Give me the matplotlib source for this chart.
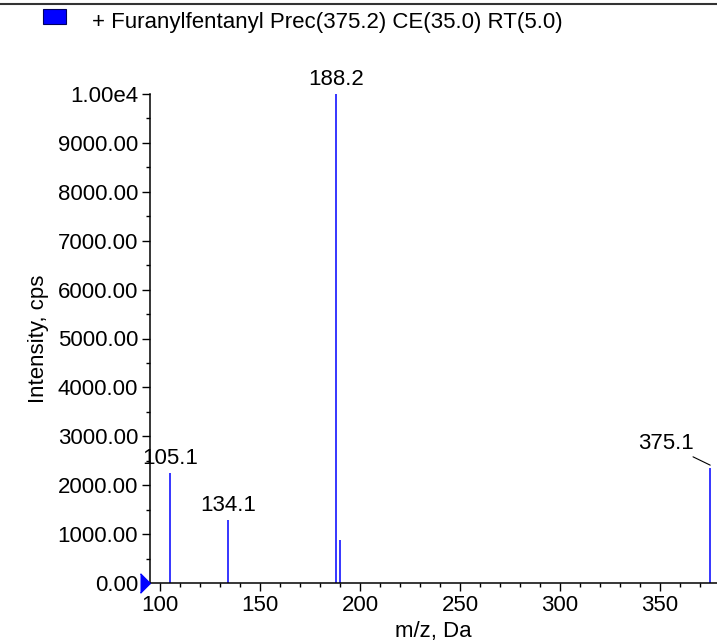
import matplotlib
matplotlib.use('Agg')
import matplotlib.pyplot as plt
from matplotlib.lines import Line2D
from matplotlib.patches import Rectangle
from matplotlib.ticker import MultipleLocator, FuncFormatter

plt.rcParams['font.family'] = ['Liberation Sans', 'DejaVu Sans']

# spectrum peaks (m/z, intensity)
mz = [105.1, 134.1, 188.2, 190.1, 375.1]
intensity = [2250, 1290, 10000, 880, 2350]

# labelled peaks
label_mz = [105.1, 134.1, 188.2, 375.1]
label_int = [2250, 1290, 10000, 2350]
label_txt = ['105.1', '134.1', '188.2', '375.1']

title = '+ Furanylfentanyl Prec(375.2) CE(35.0) RT(5.0)'

FS = 16

fig = plt.figure(figsize=(7.17, 6.41), dpi=100)
ax = fig.add_axes([150/717, 58/641, 567/717, (583-94)/641])

ax.vlines(mz, 0, intensity, color='#0000ff', lw=1.1)

ax.set_xlim(95, 378.5)
ax.set_ylim(0, 10000)

ax.xaxis.set_major_locator(MultipleLocator(50))
ax.xaxis.set_minor_locator(MultipleLocator(10))
ax.yaxis.set_major_locator(MultipleLocator(1000))
ax.yaxis.set_minor_locator(MultipleLocator(500))


def yfmt(v, pos):
    if v >= 10000:
        return '1.00e4'
    return '%.2f' % v


ax.yaxis.set_major_formatter(FuncFormatter(yfmt))
ax.tick_params(which='major', length=5.5, width=1, labelsize=FS, pad=3)
ax.tick_params(which='minor', length=3, width=1)

for s in ['top', 'right']:
    ax.spines[s].set_visible(False)
for s in ['left', 'bottom']:
    ax.spines[s].set_linewidth(1.1)

ax.set_xlabel('m/z, Da', fontsize=FS, labelpad=4)
ax.set_ylabel('Intensity, cps', fontsize=FS, labelpad=6)

# peak labels
for x, y, t in zip(label_mz, label_int, label_txt):
    if t == '375.1':
        ax.annotate(t, xy=(x, y + 60), xytext=(-12, 8), textcoords='offset points',
                    ha='right', va='bottom', fontsize=FS,
                    arrowprops=dict(arrowstyle='-', color='black', lw=0.8,
                                    shrinkA=0, shrinkB=0),
                    annotation_clip=False)
    else:
        ax.text(x, y + 80, t, ha='center', va='bottom', fontsize=FS, clip_on=False)

# blue marker at the origin
ax.plot([90], [0], marker=[(0, -1), (1, 0), (0, 1)], markersize=14,
        color='#0000ff', clip_on=False, zorder=5)

# legend square and title
fig.add_artist(Rectangle((43/717, 1 - 24/641), 23/717, 15/641,
                         transform=fig.transFigure, facecolor='#0000ff',
                         edgecolor='#000060', lw=0.8))
fig.text(92/717, 1 - 28/641, title, fontsize=FS, va='baseline', ha='left')

# top border line
fig.add_artist(Line2D([0, 1], [1 - 4/641, 1 - 4/641], transform=fig.transFigure,
                      color='#333333', lw=1.5))

fig.savefig('out.png', dpi=100)
